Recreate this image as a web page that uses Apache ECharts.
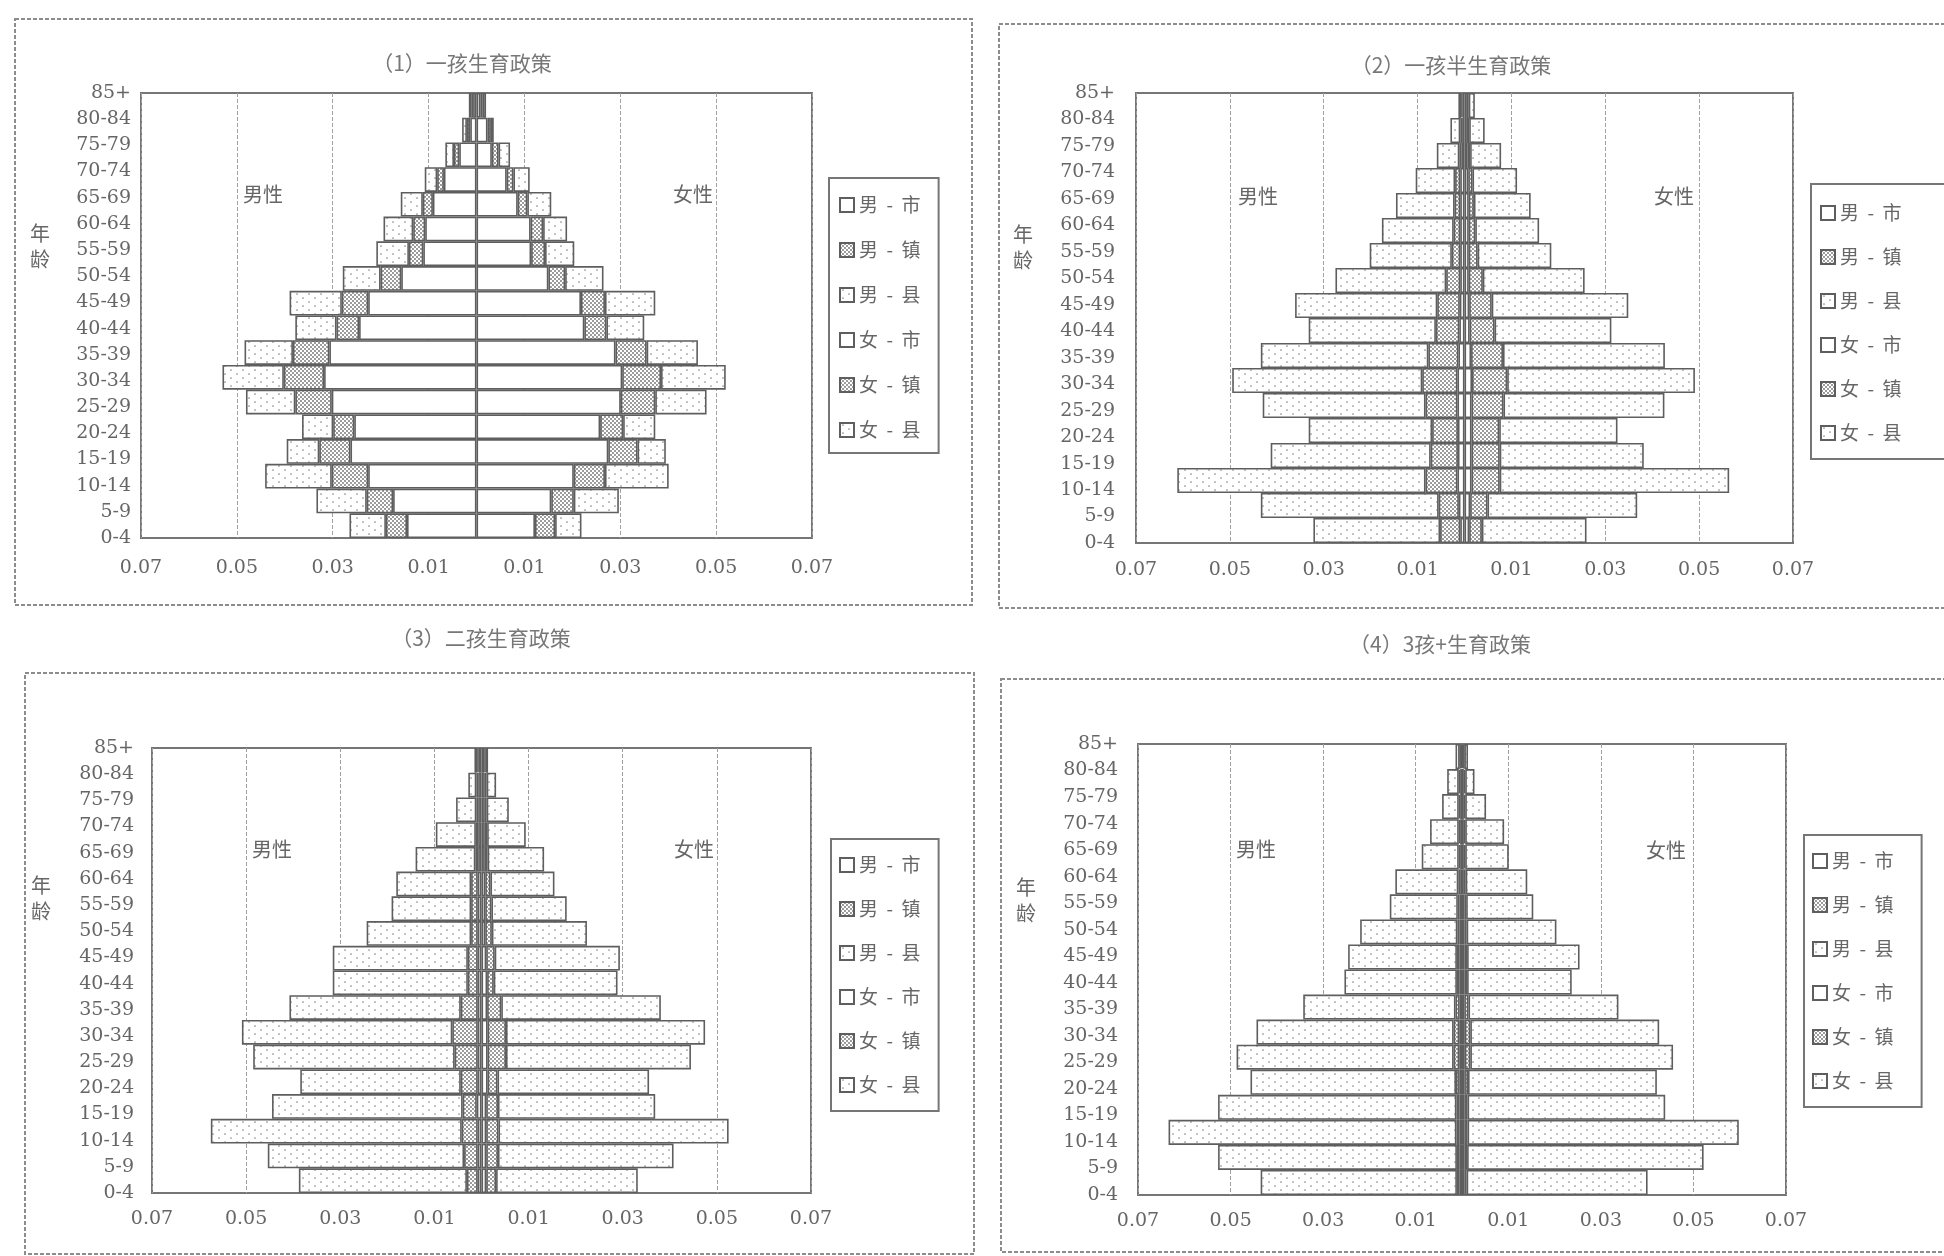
<!DOCTYPE html>
<html>
<head>
<meta charset="utf-8">
<title>人口金字塔</title>
<script src="https://cdn.jsdelivr.net/npm/echarts@6/dist/echarts.min.js"></script>
<style>
  html, body { margin: 0; padding: 0; background: #fff; }
  #chart { width: 1944px; height: 1256px; }
</style>
</head>
<body>
<div id="chart"></div>
<script>
// Age groups, bottom to top
const ageGroups = ['0-4','5-9','10-14','15-19','20-24','25-29','30-34','35-39','40-44','45-49','50-54','55-59','60-64','65-69','70-74','75-79','80-84','85+'];
const seriesNames = ['男  -  市','男  -  镇','男  -  县','女  -  市','女  -  镇','女  -  县'];
const panelTitles = ['（1）一孩生育政策','（2）一孩半生育政策','（3）二孩生育政策','（4）3孩+生育政策'];
const sideLabels = ['男性','女性'];
const axisTitle = '年龄';

// (1) 一孩生育政策 — population shares
const p1MaleCity     = [0.0145,0.0174,0.0226,0.0263,0.0255,0.0302,0.0318,0.0307,0.0245,0.0226,0.0157,0.0111,0.0107,0.0091,0.0068,0.0036,0.0013,0.0007];
const p1MaleTown     = [0.0044,0.0055,0.0076,0.0065,0.0044,0.0076,0.0084,0.0076,0.0047,0.0055,0.0043,0.0030,0.0025,0.0021,0.0014,0.0011,0.0007,0.0004];
const p1MaleCounty   = [0.0076,0.0105,0.0139,0.0068,0.0065,0.0103,0.0128,0.0101,0.0086,0.0109,0.0079,0.0068,0.0062,0.0046,0.0026,0.0018,0.0010,0.0005];
const p1FemaleCity   = [0.0122,0.0156,0.0203,0.0275,0.0258,0.0301,0.0304,0.0290,0.0225,0.0218,0.0150,0.0114,0.0113,0.0086,0.0063,0.0032,0.0023,0.0008];
const p1FemaleTown   = [0.0042,0.0047,0.0065,0.0061,0.0048,0.0072,0.0081,0.0065,0.0046,0.0050,0.0035,0.0029,0.0026,0.0020,0.0014,0.0014,0.0007,0.0005];
const p1FemaleCounty = [0.0055,0.0094,0.0133,0.0059,0.0067,0.0107,0.0135,0.0107,0.0079,0.0105,0.0080,0.0061,0.0050,0.0050,0.0034,0.0024,0.0006,0.0007];

// (2) 一孩半生育政策
const p2MaleCity     = [0.0009,0.0012,0.0015,0.0014,0.0014,0.0015,0.0015,0.0013,0.0011,0.0010,0.0009,0.0009,0.0009,0.0009,0.0009,0.0006,0.0005,0.0004];
const p2MaleTown     = [0.0043,0.0043,0.0068,0.0058,0.0055,0.0068,0.0075,0.0064,0.0050,0.0048,0.0030,0.0018,0.0014,0.0012,0.0011,0.0005,0.0004,0.0003];
const p2MaleCounty   = [0.0270,0.0379,0.0529,0.0341,0.0263,0.0347,0.0405,0.0357,0.0271,0.0303,0.0236,0.0175,0.0153,0.0125,0.0084,0.0048,0.0021,0.0006];
const p2FemaleCity   = [0.0010,0.0012,0.0015,0.0015,0.0015,0.0015,0.0016,0.0014,0.0011,0.0010,0.0009,0.0009,0.0009,0.0009,0.0008,0.0006,0.0005,0.0005];
const p2FemaleTown   = [0.0027,0.0037,0.0060,0.0060,0.0059,0.0068,0.0075,0.0068,0.0053,0.0048,0.0030,0.0019,0.0014,0.0011,0.0009,0.0006,0.0005,0.0004];
const p2FemaleCounty = [0.0223,0.0319,0.0489,0.0307,0.0252,0.0343,0.0400,0.0345,0.0249,0.0291,0.0217,0.0157,0.0136,0.0121,0.0095,0.0066,0.0033,0.0013];

// (3) 二孩生育政策
const p3MaleCity     = [0.0008,0.0008,0.0008,0.0010,0.0008,0.0008,0.0008,0.0008,0.0008,0.0008,0.0008,0.0008,0.0008,0.0007,0.0007,0.0007,0.0007,0.0006];
const p3MaleTown     = [0.0023,0.0029,0.0034,0.0030,0.0036,0.0049,0.0054,0.0036,0.0021,0.0021,0.0014,0.0014,0.0014,0.0006,0.0005,0.0004,0.0004,0.0003];
const p3MaleCounty   = [0.0357,0.0417,0.0533,0.0405,0.0341,0.0428,0.0447,0.0364,0.0287,0.0287,0.0222,0.0169,0.0159,0.0127,0.0085,0.0043,0.0017,0.0006];
const p3FemaleCity   = [0.0010,0.0010,0.0010,0.0010,0.0013,0.0013,0.0013,0.0012,0.0012,0.0010,0.0008,0.0008,0.0008,0.0007,0.0007,0.0007,0.0007,0.0006];
const p3FemaleTown   = [0.0021,0.0025,0.0026,0.0025,0.0021,0.0039,0.0039,0.0030,0.0014,0.0018,0.0014,0.0013,0.0011,0.0006,0.0005,0.0004,0.0004,0.0003];
const p3FemaleCounty = [0.0301,0.0373,0.0489,0.0334,0.0322,0.0393,0.0423,0.0339,0.0263,0.0266,0.0202,0.0160,0.0136,0.0120,0.0082,0.0047,0.0020,0.0005];

// (4) 3孩+生育政策
const p4MaleCity     = [0.0005,0.0005,0.0005,0.0005,0.0005,0.0006,0.0006,0.0005,0.0005,0.0005,0.0005,0.0005,0.0004,0.0004,0.0004,0.0004,0.0004,0.0003];
const p4MaleTown     = [0.0006,0.0006,0.0007,0.0007,0.0008,0.0012,0.0012,0.0009,0.0006,0.0006,0.0005,0.0004,0.0004,0.0003,0.0003,0.0003,0.0003,0.0002];
const p4MaleCounty   = [0.0424,0.0516,0.0622,0.0515,0.0444,0.0469,0.0426,0.0329,0.0243,0.0235,0.0210,0.0147,0.0136,0.0080,0.0062,0.0036,0.0025,0.0009];
const p4FemaleCity   = [0.0005,0.0005,0.0005,0.0005,0.0005,0.0006,0.0006,0.0005,0.0005,0.0005,0.0005,0.0005,0.0004,0.0004,0.0004,0.0004,0.0004,0.0003];
const p4FemaleTown   = [0.0005,0.0006,0.0007,0.0007,0.0008,0.0012,0.0012,0.0009,0.0006,0.0006,0.0005,0.0004,0.0004,0.0003,0.0003,0.0003,0.0003,0.0002];
const p4FemaleCounty = [0.0391,0.0511,0.0586,0.0427,0.0408,0.0438,0.0408,0.0324,0.0226,0.0243,0.0194,0.0145,0.0133,0.0094,0.0084,0.0045,0.0020,0.0008];

const panelData = [
  [p1MaleCity, p1MaleTown, p1MaleCounty, p1FemaleCity, p1FemaleTown, p1FemaleCounty],
  [p2MaleCity, p2MaleTown, p2MaleCounty, p2FemaleCity, p2FemaleTown, p2FemaleCounty],
  [p3MaleCity, p3MaleTown, p3MaleCounty, p3FemaleCity, p3FemaleTown, p3FemaleCounty],
  [p4MaleCity, p4MaleTown, p4MaleCounty, p4FemaleCity, p4FemaleTown, p4FemaleCounty]
];

// Page layout for the four panels (pixels)
const layout = [
  { grid: {left: 141, top: 93, width: 671, height: 445}, box: [15, 19, 957, 586], title: [462, 63],
    male: [263, 194], female: [693, 194], ageLabel: [40, 246],
    legend: {left: 829, top: 178, padding: [17, 18, 13, 10], itemGap: 25}, xMargin: 21, yMargin: 10 },
  { grid: {left: 1136, top: 93, width: 657, height: 450}, box: [999, 24, 1000, 584], title: [1451, 65],
    male: [1258, 196], female: [1674, 196], ageLabel: [1023, 247],
    legend: {left: 1811, top: 184, padding: [19, 60, 16, 9], itemGap: 24}, xMargin: 18, yMargin: 21 },
  { grid: {left: 152, top: 748, width: 659, height: 445}, box: [25, 673, 949, 581], title: [481, 638],
    male: [272, 849], female: [694, 849], ageLabel: [41, 898],
    legend: {left: 831, top: 839, padding: [16, 18, 16, 8], itemGap: 24}, xMargin: 17, yMargin: 18 },
  { grid: {left: 1138, top: 744, width: 648, height: 451}, box: [1001, 679, 1000, 573], title: [1440, 644],
    male: [1256, 849], female: [1666, 850], ageLabel: [1026, 900],
    legend: {left: 1804, top: 835, padding: [16, 28, 16, 8], itemGap: 24}, xMargin: 17, yMargin: 20 }
];

const FONT_NUM = "'DejaVu Serif','Noto Sans CJK SC',serif";
const FONT_CJK = "'Noto Sans CJK SC','DejaVu Serif',sans-serif";
const TEXT_COLOR = '#666';
const LINE_COLOR = '#767676';

// Fill patterns: 市 plain, 镇 dense dots, 县 sparse dots
function makePattern(w, h, dots, r, color) {
  const c = document.createElement('canvas');
  c.width = w; c.height = h;
  const g = c.getContext('2d');
  g.fillStyle = '#fff';
  g.fillRect(0, 0, w, h);
  g.fillStyle = color;
  dots.forEach(([x, y]) => { g.beginPath(); g.arc(x, y, r, 0, Math.PI * 2); g.fill(); });
  return c;
}
const cityFill = '#ffffff';
const townFill = { image: makePattern(4, 4, [[1, 1], [3, 3]], 0.9, '#6e6e6e'), repeat: 'repeat' };
const countyFill = { image: makePattern(12, 8, [[3, 2], [9, 6]], 0.85, '#8a8a8a'), repeat: 'repeat' };
const fills = [cityFill, townFill, countyFill, cityFill, townFill, countyFill];

const grids = [], xAxes = [], yAxes = [], series = [], legends = [], graphics = [];

layout.forEach((L, p) => {
  grids.push(Object.assign({ show: true, borderColor: LINE_COLOR, borderWidth: 2, backgroundColor: '#fff' }, L.grid));

  xAxes.push({
    type: 'value', gridIndex: p, min: -0.07, max: 0.07, interval: 0.01,
    axisLine: { show: false }, axisTick: { show: false },
    splitLine: { show: true, lineStyle: { type: 'dashed', width: 1, color: ['#a0a0a0', 'rgba(0,0,0,0)'] } },
    axisLabel: {
      margin: L.xMargin, fontFamily: FONT_NUM, fontSize: 19, color: TEXT_COLOR,
      showMinLabel: true, showMaxLabel: true,
      formatter: v => {
        const k = Math.round(Math.abs(v) * 100);
        return k % 2 === 1 ? (k / 100).toFixed(2) : '';
      }
    }
  });

  // band axis for the bars
  yAxes.push({
    type: 'category', gridIndex: p, data: ageGroups, boundaryGap: true, position: 'left',
    axisLine: { show: false }, axisTick: { show: false }, axisLabel: { show: false }, splitLine: { show: false }
  });
  // age labels spread edge to edge
  yAxes.push({
    type: 'category', gridIndex: p, data: ageGroups, boundaryGap: false, position: 'left', offset: 0,
    axisLine: { show: false }, axisTick: { show: false }, splitLine: { show: false },
    axisLabel: { interval: 0, margin: L.yMargin, fontFamily: FONT_NUM, fontSize: 19, color: TEXT_COLOR }
  });

  panelData[p].forEach((values, i) => {
    const sign = i < 3 ? -1 : 1;
    series.push({
      type: 'bar', name: seriesNames[i], stack: 'pyramid' + p,
      xAxisIndex: p, yAxisIndex: p * 2,
      barCategoryGap: '0%',
      data: values.map(v => sign * v),
      itemStyle: { color: fills[i], borderColor: '#5e5e5e', borderWidth: 1.6 },
      emphasis: { disabled: true }, silent: true
    });
  });

  legends.push({
    orient: 'vertical', left: L.legend.left, top: L.legend.top, padding: L.legend.padding,
    itemGap: L.legend.itemGap, itemWidth: 14, itemHeight: 14, icon: 'rect',
    borderColor: LINE_COLOR, borderWidth: 2, backgroundColor: '#fff', selectedMode: false,
    data: seriesNames,
    textStyle: { fontFamily: FONT_CJK, fontSize: 19, color: TEXT_COLOR, lineHeight: 20 }
  });

  const [bx, by, bw, bh] = L.box;
  graphics.push({
    type: 'rect', shape: { x: bx, y: by, width: bw, height: bh }, z: 0, silent: true,
    style: { fill: 'none', stroke: '#8c8c8c', lineWidth: 2, lineDash: [4, 2] }
  });
  const txt = (x, y, text, size, font, color) => ({
    type: 'text', x, y, z: 50, silent: true,
    style: { text, fontSize: size, fontFamily: font, fill: color,
             textAlign: 'center', textVerticalAlign: 'middle', align: 'center', verticalAlign: 'middle' }
  });
  graphics.push(txt(L.title[0], L.title[1], panelTitles[p], 21, FONT_CJK, '#777'));
  graphics.push(txt(L.male[0], L.male[1], sideLabels[0], 20, FONT_CJK, TEXT_COLOR));
  graphics.push(txt(L.female[0], L.female[1], sideLabels[1], 20, FONT_CJK, TEXT_COLOR));
  const age = txt(L.ageLabel[0], L.ageLabel[1], axisTitle.split('').join('\n'), 20, FONT_CJK, TEXT_COLOR);
  age.style.lineHeight = 26;
  graphics.push(age);
});

const chart = echarts.init(document.getElementById('chart'), null, { renderer: 'canvas' });
chart.setOption({
  animation: false,
  backgroundColor: '#fff',
  grid: grids,
  xAxis: xAxes,
  yAxis: yAxes,
  legend: legends,
  series: series,
  graphic: graphics
});
</script>
</body>
</html>
